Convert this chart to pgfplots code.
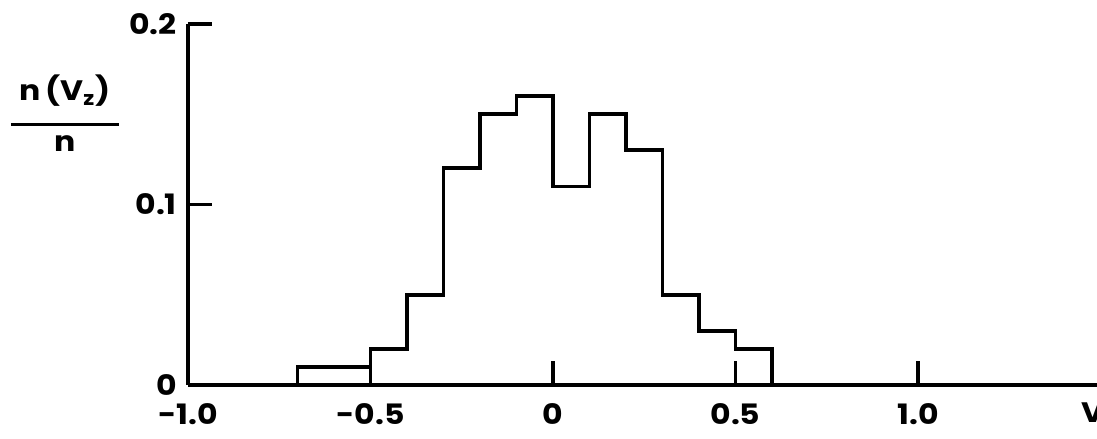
\documentclass[border=0pt]{standalone}
\usepackage{fontspec}
\setmainfont{Poppins}[FakeStretch=1.12]
\usepackage{pgfplots}
\pgfplotsset{compat=1.18}
\begin{document}
\begin{tikzpicture}
\begin{axis}[
    scale only axis, width=18.25cm, height=7.22cm,
    xmin=-1, xmax=1.5, ymin=0, ymax=0.2,
    axis x line=bottom, axis y line=left,
    axis line style={-, line width=2.6pt},
    xtick={-1,-0.5,0,0.5,1,1.5},
    xticklabels={-1.0,-0.5,0,0.5,1.0,V\textsubscript{a}},
    ytick={0,0.1,0.2}, yticklabels={0,0.1,0.2},
    tick align=inside, major tick length=0.48cm,
    tick style={line width=2pt, black},
    ticklabel style={font=\fontsize{16}{18}\selectfont\bfseries},
    xticklabel style={yshift=-0.24cm},
    yticklabel style={xshift=-0.1cm},
    every axis y label/.style={at={(axis description cs:-0.135,0.742)}, anchor=center,
        font=\fontsize{16}{18}\selectfont\bfseries},
    ylabel={\renewcommand\arraystretch{0.8}\begin{tabular}{@{}c@{}}
        n\,(V\textsubscript{z})\\ \rule{2.16cm}{0.06cm}\\ n\end{tabular}},
]
\addplot[const plot, black, line width=2.2pt, line join=miter, mark=none] coordinates {
    (-0.7,0) (-0.7,0.01) (-0.5,0.02) (-0.4,0.05) (-0.3,0.12) (-0.2,0.15)
    (-0.1,0.16) (0,0.11) (0.1,0.15) (0.2,0.13) (0.3,0.05) (0.4,0.03)
    (0.5,0.02) (0.6,0)
};
\end{axis}
\pgfresetboundingbox
\path (-3.76cm,-1.08cm) rectangle (18.18cm,7.70cm);
\end{tikzpicture}
\end{document}
